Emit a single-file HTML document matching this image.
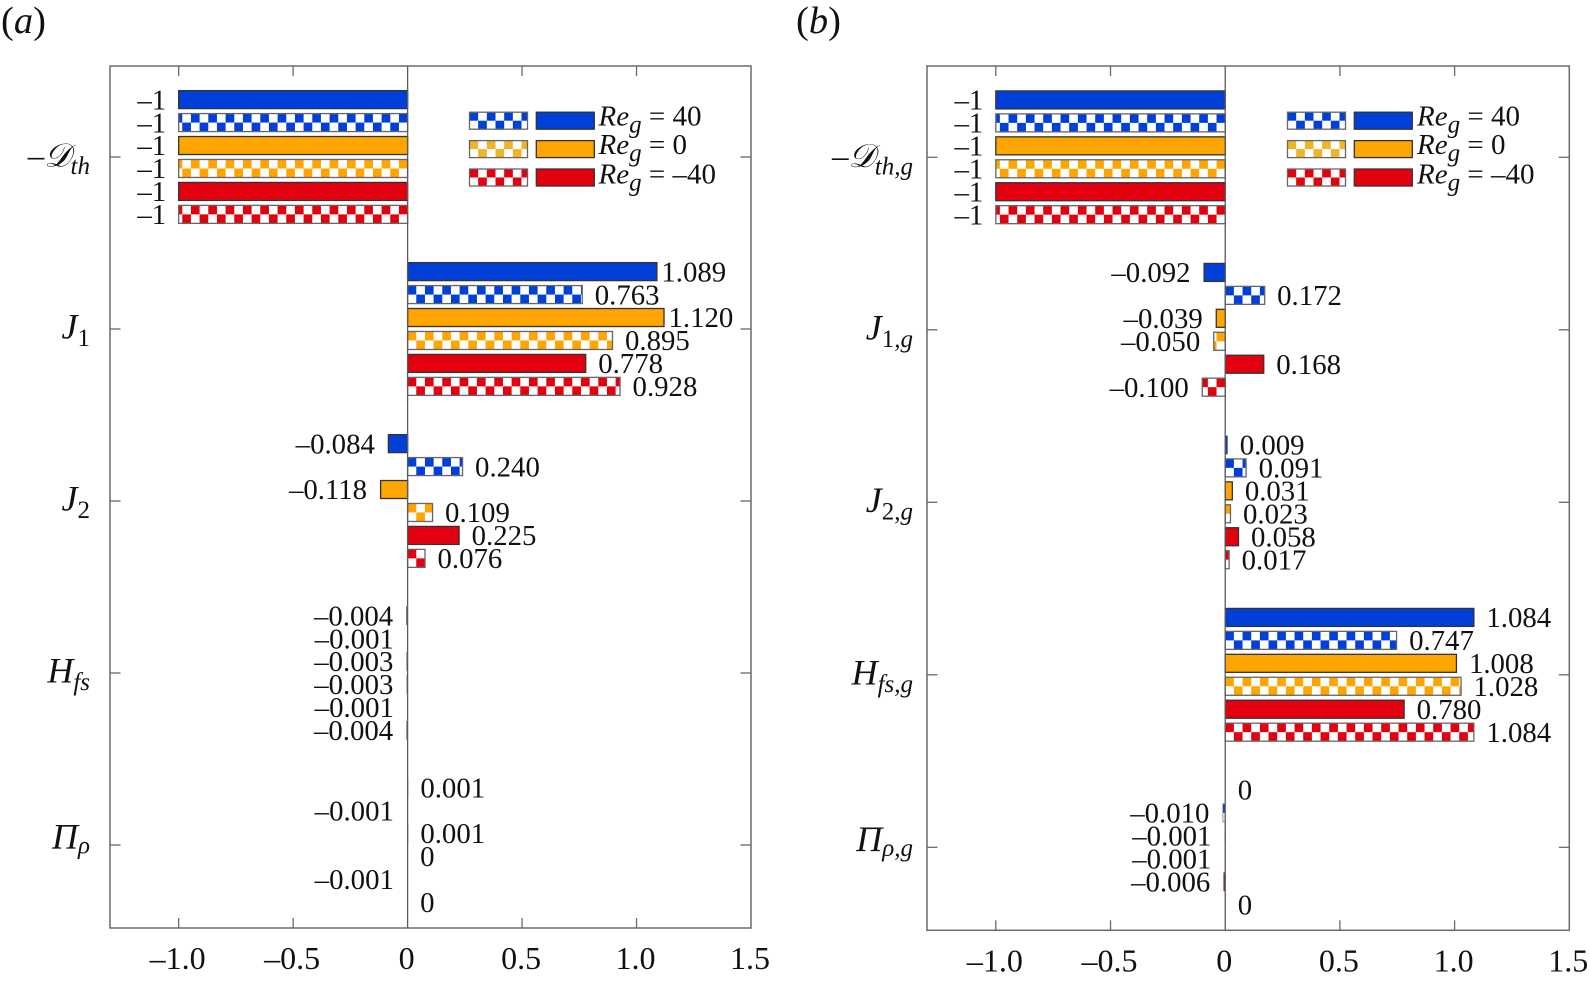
<!DOCTYPE html>
<html lang="en">
<head>
<meta charset="utf-8">
<title>Budget terms bar charts</title>
<style>
html,body{margin:0;padding:0;background:#fff;}
svg{display:block;}
text{font-family:"Liberation Serif","DejaVu Serif",serif;fill:#111;}
</style>
</head>
<body>
<svg id="figure" xmlns="http://www.w3.org/2000/svg" width="1589" height="982" viewBox="0 0 1589 982"></svg>
<script>
const seriesColors = ['#0040d8', '#0040d8', '#ffa500', '#ffa500', '#e3000f', '#e3000f'];
const seriesNames = ['re40-solid', 're40-checker', 're0-solid', 're0-checker', 're-minus40-solid', 're-minus40-checker'];
const legendLabels = ['40', '0', '–40'];
const legendColors = ['#0040d8', '#ffa500', '#e3000f'];
const legendCheckerColors = ['#0040d8', '#f0b428', '#e3000f'];
const xTicks = [-1.0, -0.5, 0, 0.5, 1.0, 1.5];
const xTickLabels = ['–1.0', '–0.5', '0', '0.5', '1.0', '1.5'];

const categoriesA = [['–𝒟', 'th'], ['J', '1'], ['J', '2'], ['H', 'fs'], ['Π', 'ρ']];
const dissipationA = [-1, -1, -1, -1, -1, -1];
const j1A = [1.089, 0.763, 1.120, 0.895, 0.778, 0.928];
const j2A = [-0.084, 0.240, -0.118, 0.109, 0.225, 0.076];
const hfsA = [-0.004, -0.001, -0.003, -0.003, -0.001, -0.004];
const piA = [0.001, -0.001, 0.001, 0, -0.001, 0];

const categoriesB = [['–𝒟', 'th,g'], ['J', '1,g'], ['J', '2,g'], ['H', 'fs,g'], ['Π', 'ρ,g']];
const dissipationB = [-1, -1, -1, -1, -1, -1];
const j1B = [-0.092, 0.172, -0.039, -0.050, 0.168, -0.100];
const j2B = [0.009, 0.091, 0.031, 0.023, 0.058, 0.017];
const hfsB = [1.084, 0.747, 1.008, 1.028, 0.780, 1.084];
const piB = [0, -0.010, -0.001, -0.001, -0.006, 0];

const svg = document.getElementById('figure');
const NS = 'http://www.w3.org/2000/svg';
const xMin = -1.3, xMax = 1.5;
const pitch = 22.95, barH = 18, cellW = 8.667;

function make(tag, attrs, parent) {
  const el = document.createElementNS(NS, tag);
  for (const k in attrs) el.setAttribute(k, attrs[k]);
  parent.appendChild(el);
  return el;
}

function formatValue(v) {
  if (v === 0) return '0';
  if (v === -1) return '–1';
  return (v < 0 ? '–' : '') + Math.abs(v).toFixed(3);
}

function checkerCell(g, x, y, w, h, color) {
  const cell = make('rect', {x: x, y: y, width: w, height: h, fill: color}, g);
  
  
}

function drawPanel(p) {
  const sx = v => p.left + (v - xMin) / (xMax - xMin) * (p.right - p.left);
  const catY = i => p.y0 + i * p.step;
  const root = make('g', {}, svg);
  
  

  const title = make('text', {x: p.titleX, y: 33, 'font-size': 38.5}, root);
  
  
  make('tspan', {}, title).textContent = '(';
  make('tspan', {'font-style': 'italic'}, title).textContent = p.id;
  make('tspan', {}, title).textContent = ')';

  const frame = make('rect', {x: p.left, y: p.top, width: p.right - p.left, height: p.bottom - p.top, fill: '#fff', stroke: '#6a6a6a', 'stroke-width': 1.5}, root);
  
  

  // bars
  p.values.forEach((vals, c) => {
    vals.forEach((v, s) => {
      const yc = catY(c) + (s - 2.5) * pitch;
      const x0 = sx(0), x1 = sx(v);
      const top = yc - barH / 2;
      const g = make('g', {}, root);
      
      
      if (v !== 0) {
        const bx = Math.min(x0, x1), bw = Math.abs(x1 - x0);
        const checker = s % 2 === 1;
        make('rect', {x: bx, y: top, width: bw, height: barH, fill: checker ? '#fff' : seriesColors[s]}, g);
        if (checker) {
          const dir = v < 0 ? -1 : 1;
          for (let i = 0; i * cellW < bw; i++) {
            const w = Math.min(cellW, bw - i * cellW);
            const cx = dir > 0 ? x0 + i * cellW : x0 - i * cellW - w;
            checkerCell(g, cx, i % 2 === 0 ? top : top + barH / 2, w, barH / 2, seriesColors[s]);
          }
        }
        make('rect', {x: bx, y: top, width: bw, height: barH, fill: 'none', stroke: checker ? '#666' : '#333', 'stroke-width': bw < 3 ? 0.7 : 1.3}, g);
      }
      let gap = 12.5;
      if (v < 0 && v !== -1) gap = 13.5;
      if (p.id === 'a' && v > 1.05) gap = 4.5;
      const lab = make('text', {
        x: v < 0 ? x1 - gap : x1 + gap,
        y: top + barH + 0.7,
        'font-size': 28.8,
        'text-anchor': v < 0 ? 'end' : 'start'
      }, g);
      
      
      lab.textContent = formatValue(v);
    });
  });

  // zero line
  const zero = make('line', {x1: sx(0), x2: sx(0), y1: p.top, y2: p.bottom, stroke: '#5a5a5a', 'stroke-width': 1.3}, root);
  
  

  // x ticks
  xTicks.forEach((t, i) => {
    const x = sx(t);
    if (t !== 0 && t !== xMax) {
      const tb = make('line', {x1: x, x2: x, y1: p.bottom, y2: p.bottom - 10, stroke: '#6a6a6a', 'stroke-width': 1.3}, root);
      
      
      const tt = make('line', {x1: x, x2: x, y1: p.top, y2: p.top + 10, stroke: '#6a6a6a', 'stroke-width': 1.3}, root);
      
      
    }
    const lab = make('text', {x: x - 1, y: p.bottom + 41, 'font-size': 32, 'text-anchor': 'middle'}, root);
    
    
    lab.textContent = xTickLabels[i];
  });

  // y ticks + category labels
  p.categories.forEach((cat, c) => {
    const y = catY(c);
    const tl = make('line', {x1: p.left, x2: p.left + 10.5, y1: y, y2: y, stroke: '#6a6a6a', 'stroke-width': 1.3}, root);
    
    
    const tr = make('line', {x1: p.right, x2: p.right - 10.5, y1: y, y2: y, stroke: '#6a6a6a', 'stroke-width': 1.3}, root);
    
    
    const isPi = cat[0] === 'Π';
    const isScript = cat[0] === '–𝒟';
    const base = y + (isPi ? 3.5 : 9.5);
    const lab = make('text', {x: p.left - p.catGap, y: base, 'font-size': isScript ? 33 : 36, 'font-style': 'italic', 'text-anchor': 'end'}, root);
    
    
    make('tspan', {}, lab).textContent = cat[0];
    Array.from(cat[1]).forEach((ch, k) => {
      const attrs = {'font-size': 25};
      if (k === 0) attrs.dy = isPi ? 5 : 7.5;
      if (/[0-9]/.test(ch)) attrs['font-style'] = 'normal';
      make('tspan', attrs, lab).textContent = ch;
    });
  });

  // legend
  const legendRows = [112.2, 140.6, 169];
  const legendBaselines = [125.7, 154.2, 183.5];
  legendLabels.forEach((txt, r) => {
    const g = make('g', {}, root);
    
    
    const y = legendRows[r], h = 17, w = 58;
    const cx = p.legendX, sxx = p.legendX + 66.8;
    make('rect', {x: cx, y: y, width: w, height: h, fill: '#fff'}, g);
    for (let i = 0; i * cellW < w; i++) {
      const cw = Math.min(cellW, w - i * cellW);
      checkerCell(g, cx + i * cellW, i % 2 === 0 ? y : y + h / 2, cw, h / 2, legendCheckerColors[r]);
    }
    make('rect', {x: cx, y: y, width: w, height: h, fill: 'none', stroke: '#666', 'stroke-width': 1.3}, g);
    make('rect', {x: sxx, y: y, width: w, height: h, fill: legendColors[r], stroke: '#333', 'stroke-width': 1.3}, g);
    const lab = make('text', {x: p.legendX + p.legendTextDx, y: legendBaselines[r], 'font-size': 29}, g);
    
    
    make('tspan', {'font-style': 'italic'}, lab).textContent = 'Re';
    make('tspan', {'font-style': 'italic', 'font-size': 25, dy: 7}, lab).textContent = 'g';
    make('tspan', {dy: -7}, lab).textContent = ' = ' + txt;
  });
}

drawPanel({
  id: 'a', left: 110, right: 751, top: 66, bottom: 928, y0: 157, step: 172,
  titleX: 1, catGap: 20, legendX: 469.5, legendTextDx: 129,
  categories: categoriesA,
  values: [dissipationA, j1A, j2A, hfsA, piA]
});
drawPanel({
  id: 'b', left: 927, right: 1569.3, top: 66, bottom: 930.3, y0: 157.3, step: 172.5,
  titleX: 796, catGap: 14, legendX: 1287.5, legendTextDx: 129.5,
  categories: categoriesB,
  values: [dissipationB, j1B, j2B, hfsB, piB]
});
</script>
</body>
</html>
